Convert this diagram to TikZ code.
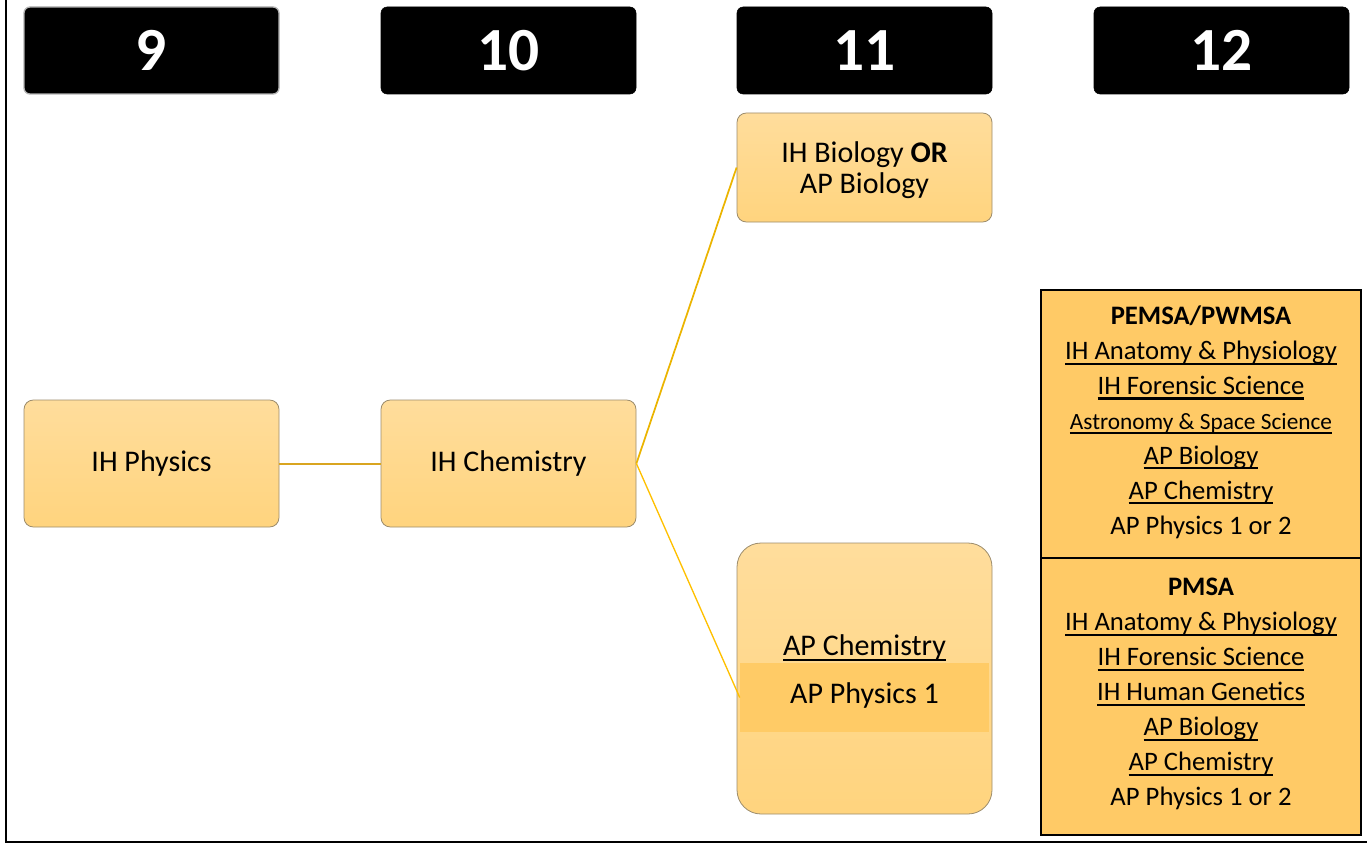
\documentclass[tikz,border=0pt]{standalone}
\usepackage{fontspec}
\setmainfont{Carlito}
\definecolor{ctop}{HTML}{FFDD9C}
\definecolor{cbot}{HTML}{FFD47E}
\definecolor{bord}{HTML}{9C8C6C}
\definecolor{rfill}{HTML}{FFCA66}
\definecolor{bandc}{HTML}{FFCB66}
\definecolor{goldA}{HTML}{D9A520}
\definecolor{goldB}{HTML}{EBB400}
\definecolor{goldC}{HTML}{FFC000}
\newcommand\ulx[1]{\leavevmode\setbox0\hbox{#1}\hbox{\rlap{\vrule height -0.12em depth 0.2em width \wd0}\box0}}
\begin{document}
\begin{tikzpicture}[x=0.75pt,y=-0.75pt,
  hdr/.style={fill=black, draw=black, rounded corners=4.5pt, minimum width=191.25pt,
    minimum height=65.25pt, text=white, font=\fontsize{46}{50}\selectfont\bfseries, inner sep=0pt},
  cbox/.style={draw=bord, line width=0.6pt, rounded corners=7pt, top color=ctop, bottom color=cbot,
    minimum width=191.25pt, font=\fontsize{22.5}{23.5}\selectfont, align=center, inner sep=0pt},
  ctext/.style={font=\fontsize{22.5}{23.3}\selectfont, align=center, inner sep=0pt},
  rbox/.style={draw=black, line width=1pt, fill=rfill, minimum width=240pt, inner sep=0pt},
  rtext/.style={font=\fontsize{20}{26.2}\selectfont, align=center, inner sep=0pt},
  conn/.style={line width=1.5pt}
]
\useasboundingbox (0,0) rectangle (1367,845);
\draw[line width=1.5pt] (6,0) -- (6,842) -- (1367,842);

% headers
\node[hdr, draw=gray!60, line width=1pt] (h9) at (151.5,50.5) {9};
\node[hdr] (h10) at (508.5,50.5) {10};
\node[hdr] (h11) at (864.5,50.5) {11};
\node[hdr] (h12) at (1221.5,50.5) {12};

% course boxes
\node[cbox, minimum height=95.25pt] (phys) at (151.5,463.5) {IH Physics};
\node[cbox, minimum height=95.25pt] (chem) at (508.5,463.5) {IH Chemistry};
\node[cbox, minimum height=81.75pt] (bio) at (864.5,167.5) {};
\node[ctext] (biot) at (864.5,170.5) {IH Biology \textbf{OR}\\AP Biology};
\node[cbox, minimum height=203.25pt, rounded corners=18pt] (ap) at (864.5,678.5) {};
\node[fill=bandc, minimum width=186.75pt, minimum height=51.75pt, inner sep=0pt] (band) at (864.5,697.5) {};
\node[anchor=base, ctext] (apchem) at (864.5,655) {\ulx{AP Chemistry}};
\node[anchor=base, ctext] (apphys) at (864.5,703) {AP Physics 1};

% grade 12 boxes
\node[rbox, minimum height=201pt] (pemsa) at (1201,424) {};
\node[rbox, minimum height=207.75pt] (pmsa) at (1201,696.5) {};
\node[rtext] (pemsat) at (1201,422) {\textbf{PEMSA/PWMSA}\\\ulx{IH Anatomy \& Physiology}\\\ulx{IH Forensic Science}\\{\fontsize{17.5}{26.2}\selectfont\ulx{Astronomy \& Space Science}}\\\ulx{AP Biology}\\\ulx{AP Chemistry}\\AP Physics 1 or 2};
\node[rtext] (pmsat) at (1201,694) {\textbf{PMSA}\\\ulx{IH Anatomy \& Physiology}\\\ulx{IH Forensic Science}\\\ulx{IH Human Genetics}\\\ulx{AP Biology}\\\ulx{AP Chemistry}\\AP Physics 1 or 2};

% connectors
\draw[conn, draw=goldA] (phys.east) -- (chem.west);
\draw[conn, draw=goldB, line width=1.3pt] (chem.east) -- (bio.west);
\draw[conn, draw=goldC, line width=1pt] (chem.east) -- (band.west);
\end{tikzpicture}
\end{document}
